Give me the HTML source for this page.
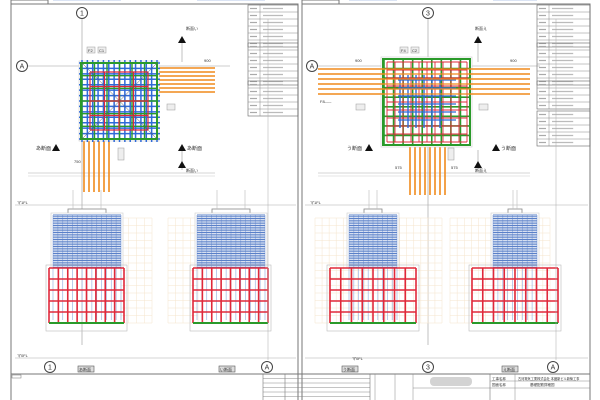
<!DOCTYPE html>
<html><head><meta charset="utf-8"><style>
html,body{margin:0;padding:0;background:#fff;width:600px;height:400px;overflow:hidden}
svg{display:block}
text{font-family:"Liberation Sans","Noto Sans CJK JP",sans-serif}
</style></head><body>
<svg id="s" width="600" height="400" viewBox="0 0 600 400" xmlns="http://www.w3.org/2000/svg">
<rect width="600" height="400" fill="#fff"/>
<g stroke="#777" stroke-width="1" fill="none">
<path d="M11 4H298V400M11 4V400M302 4H590V400M302 4V400"/>
<rect x="11" y="0" width="37" height="4"/>
<rect x="302" y="0" width="37" height="4"/>
<path d="M11 374H590"/>
</g>
<g id="g"></g>
</svg>
<script>
var g=document.getElementById('g'),h='';
function L(x1,y1,x2,y2,c,w,d){h+='<line x1="'+x1+'" y1="'+y1+'" x2="'+x2+'" y2="'+y2+'" stroke="'+c+'" stroke-width="'+(w||1)+'"'+(d?' stroke-dasharray="'+d+'"':'')+'/>';}
function R(x,y,w,hh,c,sw,f){h+='<rect x="'+x+'" y="'+y+'" width="'+w+'" height="'+hh+'" fill="'+(f||'none')+'" stroke="'+c+'" stroke-width="'+(sw||1)+'"/>';}
function T(x,y,t,s,a){h+='<text x="'+x+'" y="'+y+'" font-size="'+(s||5)+'" fill="#333"'+(a?' text-anchor="'+a+'"':'')+'>'+t+'</text>';}
function C(x,y,t){h+='<circle cx="'+x+'" cy="'+y+'" r="5.5" fill="#fff" stroke="#444"/>';T(x,y+2.5,t,7,'middle');}
function tri(x,y,up){h+='<polygon points="'+(x-4)+','+(y+3)+' '+(x+4)+','+(y+3)+' '+x+','+(y-4)+'" fill="#111"/>';}
function table(x,y,w,rows){R(x,y,w,rows*7,'#666',0.6);for(var i=1;i<rows;i++)L(x,y+i*7,x+w,y+i*7,'#888',0.5);L(x+12,y,x+12,y+rows*7,'#888',0.5);for(var i=0;i<rows;i++){L(x+2,y+i*7+3.5,x+9,y+i*7+3.5,'#aaa',1.2);L(x+15,y+i*7+3.5,x+15+w*0.4,y+i*7+3.5,'#bbb',1.2);}}
function grid(x,y,w,hh,c,n,m,sw){for(var i=0;i<=n;i++)L(x+w*i/n,y,x+w*i/n,y+hh,c,sw);for(var j=0;j<=m;j++)L(x,y+hh*j/m,x+w,y+hh*j/m,c,sw);}
function section(bx,bw,rx,rw,ox,ow){
 grid(ox,218,ow,105,'#f5e4cc',Math.round(ow/7),14,0.5);
 R(bx+15,209,bw-30,6,'#888',0.8,'#fff');
 L(bx+20,190,bx+20,209,'#bbb',0.6);L(bx+bw-20,190,bx+bw-20,209,'#bbb',0.6);
 R(bx-2,213,bw+4,55,'#ccc',0.6,'#fff');
 grid(bx,215,bw,105,'#9fb6e2',Math.round(bw/5),0,0.7);
 for(var j=0;j<=30;j++)L(bx,215+j*1.75,bx+bw,215+j*1.75,'#5a80c8',1);
 R(rx-3,265,rw+6,66,'#bbb',0.6);
 grid(rx,268,rw,55,'#e0283a',8,5,1.6);
 L(rx,323,rx+rw,323,'#2a9a2a',2);
}
// LEFT SHEET
L(82,19,82,345,'#999',0.6);L(16,66,230,66,'#999',0.6);C(82,13,'1');C(22,66,'A');
L(28,173,215,173,'#aaa',0.6);L(28,176,215,176,'#ccc',0.5);
L(182,38,182,62,'#999',0.6);L(182,150,182,170,'#999',0.6);
for(var i=0;i<7;i++)L(157,68+i*4,215,68+i*4,'#f08a1c',1.6);
for(var i=0;i<6;i++)L(84+i*5,139,84+i*5,192,'#f08a1c',1.6);
R(79,61,80,80,'#ccc',0.6,'#fff');
for(var i=0;i<=14;i++){L(82+i*75/14,60,82+i*75/14,142,'#2f6ad8',1.5);L(79,63+i*76/14,160,63+i*76/14,'#2f6ad8',1.5);}
grid(82,63,75,76,'#2a9a2a',6,6,1.4);
grid(90,72,58,58,'#e0283a',4,4,1.2);
R(81,63,76,76,'#2a9a2a',2);L(82,63,157,139,'#555',0.5);L(157,63,82,139,'#555',0.5);
R(87,47,8,6,'#999',0.5,'#eee');R(98,47,8,6,'#999',0.5,'#eee');T(88,52,'F2',4);T(99,52,'C1',4);
R(167,104,8,6,'#999',0.5,'#eee');R(118,148,6,12,'#999',0.5,'#eee');
tri(56,148);T(36,150,'あ断面',5);tri(182,148);T(187,150,'あ断面',5);
tri(182,40);T(186,30,'断面い',4);tri(182,165);T(186,172,'断面い',4);
T(74,163,'750',4);T(204,62,'900',4);
table(248,5,50,6);table(248,43,50,6);table(248,81,50,5);
L(15,205,296,205,'#aaa',0.5);T(17,204,'マ1FL',4);
L(15,358,296,358,'#aaa',0.5);T(17,357,'マ0FL',4);
section(53,68,49,75,121,31);
section(197,68,193,75,168,30);
L(268,19,268,360,'#aaa',0.5);
C(50,367,'1');C(267,367,'A');
R(78,366,16,6,'#555',0.6,'#ddd');T(79,371,'あ断面',4);R(219,366,16,6,'#555',0.6,'#ddd');T(220,371,'い断面',4);
// RIGHT SHEET
L(428,19,428,345,'#999',0.6);L(306,66,540,66,'#999',0.6);C(428,13,'3');C(312,66,'A');
L(318,173,530,173,'#aaa',0.6);L(318,176,530,176,'#ccc',0.5);
L(478,38,478,62,'#999',0.6);L(478,150,478,170,'#999',0.6);
for(var i=0;i<8;i++)L(410+i*5,145,410+i*5,195,'#f08a1c',1.6);
R(381,57,91,90,'#ccc',0.6,'#fff');
grid(384,59,86,86,'#2a9a2a',9,9,1.6);
grid(387,62,80,80,'#e0283a',10,10,0.9);
for(var i=0;i<6;i++){L(400+i*8,75,400+i*8,128,'#2f6ad8',1.4);L(398,80+i*8,456,80+i*8,'#2f6ad8',1.2);}
R(383,59,87,86,'#2a9a2a',2);
for(var j=0;j<6;j++){L(318,69+j*5,384,69+j*5,'#f08a1c',1.6);L(470,69+j*5,530,69+j*5,'#f08a1c',1.6);L(384,69+j*5,470,69+j*5,'#f08a1c',1.2);}
R(400,47,8,6,'#999',0.5,'#eee');R(411,47,8,6,'#999',0.5,'#eee');T(401,52,'F4',4);T(412,52,'C2',4);
R(356,104,9,6,'#999',0.5,'#eee');R(479,104,9,6,'#999',0.5,'#eee');R(448,148,6,12,'#999',0.5,'#eee');
T(320,103,'F8&#8211;&#8211;&#8211;',4);
tri(369,148);T(347,150,'う断面',5);tri(496,148);T(501,150,'う断面',5);
tri(478,40);T(475,30,'断面え',4);tri(478,165);T(475,172,'断面え',4);
T(395,169,'575',4);T(451,169,'575',4);T(355,62,'900',4);T(510,62,'900',4);
table(537,5,53,6);table(537,43,53,6);table(537,81,53,4);table(537,111,53,5);
L(305,205,588,205,'#aaa',0.5);T(310,204,'マ1FL',4);
L(305,358,588,358,'#aaa',0.5);T(352,360,'マ0FL',4);
section(349,48,330,86,315,127);
section(493,44,472,86,450,100);
L(556,19,556,360,'#aaa',0.5);
C(428,367,'3');C(553,367,'A');
R(342,366,16,6,'#555',0.6,'#ddd');T(343,371,'う断面',4);R(502,366,16,6,'#555',0.6,'#ddd');T(503,371,'え断面',4);
// TITLE BLOCK
R(12,375,9,3,'#777',0.5);
L(263,374,263,400,'#777',0.6);L(285,374,285,400,'#777',0.6);
for(var i=1;i<6;i++)L(263,374+i*4.5,370,374+i*4.5,'#888',0.5);
L(370,374,370,400,'#777',0.6);L(375,374,375,400,'#888',0.5);L(395,374,395,400,'#888',0.5);L(413,374,413,400,'#888',0.5);
L(413,388,590,388,'#888',0.5);L(490,374,490,400,'#777',0.6);L(515,374,515,400,'#888',0.5);
L(490,381,590,381,'#888',0.5);
h+='<rect x="430" y="377" width="42" height="9" rx="4" fill="#c8c8c8" opacity="0.8"/>';
T(492,380,'工事名称',3.5);T(518,380,'古河電気工業株式会社 本館新ビル新築工事',3.2);
T(492,386,'図面名称',3.5);T(530,386,'基礎配筋詳細図',3.5);
g.innerHTML=h;
</script>
</body></html>
